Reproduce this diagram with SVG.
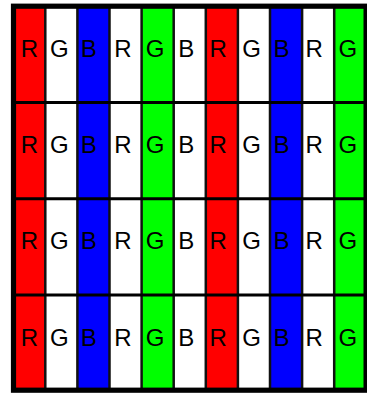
<svg xmlns="http://www.w3.org/2000/svg" width="367" height="395" viewBox="0 0 367 395">
<style>
.r{fill:#ff0000}.w{fill:#ffffff}.b{fill:#0000ff}.g{fill:#00ff00}
text{font-family:"Liberation Sans",Arial,sans-serif;font-size:24px;fill:#000;text-anchor:middle}
.sep{stroke:#111;stroke-width:2.5}
.hl{stroke:#000;stroke-width:3}
</style>
<rect x="0" y="0" width="367" height="395" fill="#fff"/>
<g id="col1"><rect class="r" x="13.5" y="6.2" width="31.8" height="384"/><text x="29.5" y="56.7">R</text><text x="29.5" y="153">R</text><text x="29.5" y="249.3">R</text><text x="29.5" y="345.6">R</text></g>
<g id="col2"><rect class="w" x="45.3" y="6.2" width="32.1" height="384"/><text x="59.3" y="56.7">G</text><text x="59.3" y="153">G</text><text x="59.3" y="249.3">G</text><text x="59.3" y="345.6">G</text></g>
<g id="col3"><rect class="b" x="77.4" y="6.2" width="32.1" height="384"/><text x="88.8" y="56.7">B</text><text x="88.8" y="153">B</text><text x="88.8" y="249.3">B</text><text x="88.8" y="345.6">B</text></g>
<g id="col4"><rect class="w" x="109.5" y="6.2" width="32.1" height="384"/><text x="122.8" y="56.7">R</text><text x="122.8" y="153">R</text><text x="122.8" y="249.3">R</text><text x="122.8" y="345.6">R</text></g>
<g id="col5"><rect class="g" x="141.6" y="6.2" width="32.1" height="384"/><text x="155.2" y="56.7">G</text><text x="155.2" y="153">G</text><text x="155.2" y="249.3">G</text><text x="155.2" y="345.6">G</text></g>
<g id="col6"><rect class="w" x="173.7" y="6.2" width="32.1" height="384"/><text x="186.2" y="56.7">B</text><text x="186.2" y="153">B</text><text x="186.2" y="249.3">B</text><text x="186.2" y="345.6">B</text></g>
<g id="col7"><rect class="r" x="205.8" y="6.2" width="32.1" height="384"/><text x="218.2" y="56.7">R</text><text x="218.2" y="153">R</text><text x="218.2" y="249.3">R</text><text x="218.2" y="345.6">R</text></g>
<g id="col8"><rect class="w" x="237.9" y="6.2" width="32.1" height="384"/><text x="251.7" y="56.7">G</text><text x="251.7" y="153">G</text><text x="251.7" y="249.3">G</text><text x="251.7" y="345.6">G</text></g>
<g id="col9"><rect class="b" x="270" y="6.2" width="32.1" height="384"/><text x="281.5" y="56.7">B</text><text x="281.5" y="153">B</text><text x="281.5" y="249.3">B</text><text x="281.5" y="345.6">B</text></g>
<g id="col10"><rect class="w" x="302.1" y="6.2" width="32.1" height="384"/><text x="314.2" y="56.7">R</text><text x="314.2" y="153">R</text><text x="314.2" y="249.3">R</text><text x="314.2" y="345.6">R</text></g>
<g id="col11"><rect class="g" x="334.2" y="6.2" width="32" height="384"/><text x="347.8" y="56.7">G</text><text x="347.8" y="153">G</text><text x="347.8" y="249.3">G</text><text x="347.8" y="345.6">G</text></g>
<g id="grid">
<line class="sep" x1="45.3" y1="6" x2="45.3" y2="390"/>
<line class="sep" x1="77.4" y1="6" x2="77.4" y2="390"/>
<line class="sep" x1="109.5" y1="6" x2="109.5" y2="390"/>
<line class="sep" x1="141.6" y1="6" x2="141.6" y2="390"/>
<line class="sep" x1="173.7" y1="6" x2="173.7" y2="390"/>
<line class="sep" x1="205.8" y1="6" x2="205.8" y2="390"/>
<line class="sep" x1="237.9" y1="6" x2="237.9" y2="390"/>
<line class="sep" x1="270" y1="6" x2="270" y2="390"/>
<line class="sep" x1="302.1" y1="6" x2="302.1" y2="390"/>
<line class="sep" x1="334.2" y1="6" x2="334.2" y2="390"/>
<line class="hl" x1="13.5" y1="102.5" x2="366" y2="102.5"/>
<line class="hl" x1="13.5" y1="198.7" x2="366" y2="198.7"/>
<line class="hl" x1="13.5" y1="294.9" x2="366" y2="294.9"/>
<rect x="13.5" y="6.2" width="352.6" height="384" fill="none" stroke="#000" stroke-width="5.2"/>
</g>
</svg>
